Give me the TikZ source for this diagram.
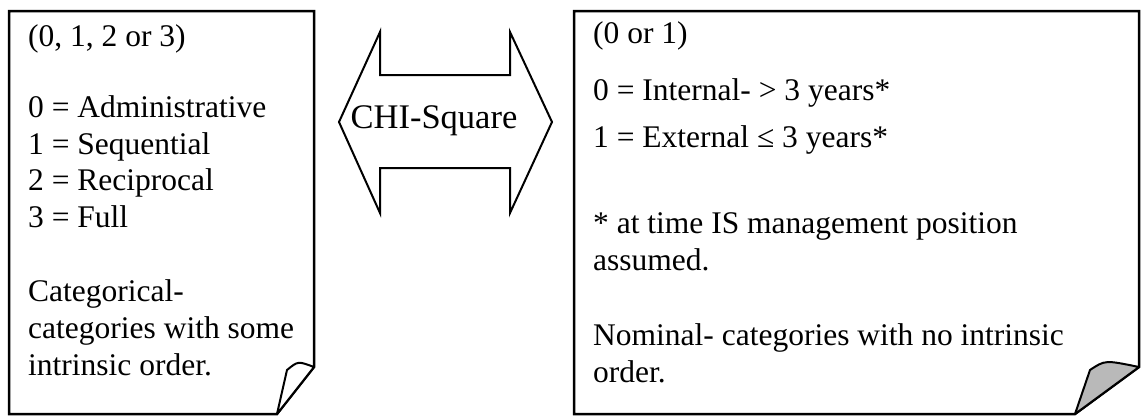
\documentclass[tikz,border=0pt]{standalone}
\usepackage{fontspec}
\setmainfont{Liberation Serif}
\usetikzlibrary{positioning}

\begin{document}
\begin{tikzpicture}[
    x=1pt, y=-1pt, % picture units follow the page, y runs downwards
    sheet/.style={draw, line width=2.5pt, line join=miter},
    curl/.style={draw, line width=2pt, line join=round},
    txt/.style={anchor=base west, inner sep=0pt, font=\fontsize{31.5}{38}\selectfont}
]
    \useasboundingbox (0,0) rectangle (1143,416);

    % Left sheet with folded corner
    \draw[sheet] (277,414) -- (9,414) -- (9,11) -- (314,11) -- (314,367) -- cycle;
    \filldraw[curl, fill=white] (314,367) .. controls (298,361) .. (287,370) -- (277,414) -- cycle;

    % Right sheet with folded corner
    \draw[sheet] (1075,414) -- (574,414) -- (574,11) -- (1139,11) -- (1139,367) -- cycle;
    \filldraw[curl, fill=gray!55] (1139,367) .. controls (1105,360) .. (1090,370) -- (1075,414) -- cycle;

    % Double arrow between the sheets
    \draw[line width=2pt, line join=miter] (339,122) -- (380,32) -- (380,75) -- (510,75) -- (510,32)
        -- (552,122) -- (510,213) -- (510,168) -- (380,168) -- (380,213) -- cycle;
    \node[anchor=base, inner sep=0pt, font=\fontsize{34.5}{40}\selectfont] (chi) at (434,128) {CHI-Square};

    % Left sheet text
    \node[txt] (lrange) at (28,46) {(0, 1, 2 or 3)};
    \node[txt] (ladmin) at (28,117) {0 = Administrative};
    \node[txt] (lseq) at (28,154) {1 = Sequential};
    \node[txt] (lrecip) at (28,190) {2 = Reciprocal};
    \node[txt] (lfull) at (28,227) {3 = Full};
    \node[txt] (lcat) at (28,301) {Categorical-};
    \node[txt] (lcatb) at (28,338) {categories with some};
    \node[txt] (lcatc) at (28,375) {intrinsic order.};

    % Right sheet text
    \node[txt] (rrange) at (593,43) {(0 or 1)};
    \node[txt] (rint) at (593,100) {0 = Internal- > 3 years*};
    \node[txt] (rext) at (593,147) {1 = External ≤ 3 years*};
    \node[txt] (rnote) at (593,233) {* at time IS management position};
    \node[txt] (rnoteb) at (593,270) {assumed.};
    \node[txt] (rnom) at (593,345) {Nominal- categories with no intrinsic};
    \node[txt] (rnomb) at (593,382) {order.};
\end{tikzpicture}
\end{document}
